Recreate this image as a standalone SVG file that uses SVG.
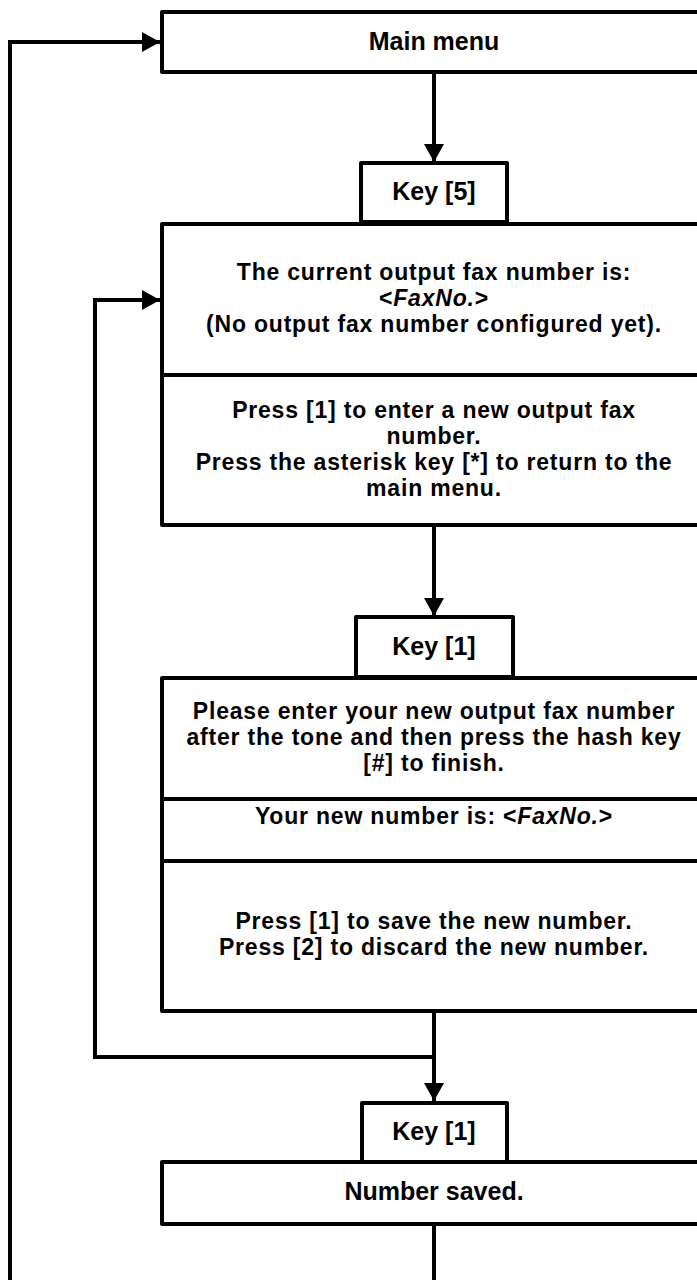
<svg xmlns="http://www.w3.org/2000/svg" width="697" height="1280" viewBox="0 0 697 1280">
<style>
.box{fill:#fff;stroke:#000;stroke-width:4;stroke-linejoin:round}
.div{stroke:#000;stroke-width:4;fill:none}
.ln{stroke:#000;stroke-width:4;fill:none;stroke-linejoin:miter}
text{font-family:"Liberation Sans",Arial,sans-serif;font-weight:bold;font-size:25px;text-anchor:middle;fill:#000}
.ml{font-size:23px;letter-spacing:0.8px}
.it{font-style:italic}
</style>
<defs>
<marker id="ah" viewBox="0 0 18 20" refX="18" refY="10" markerWidth="18" markerHeight="20" markerUnits="userSpaceOnUse" orient="auto">
<path d="M0,0 L18,10 L0,20 Z" fill="#000"/>
</marker>
</defs>
<g id="connectors">
<path class="ln" d="M434,1224 L434,1290"/>
<path class="ln" d="M10,1290 L10,42 L160,42" marker-end="url(#ah)"/>
<path class="ln" d="M434,72 L434,162" marker-end="url(#ah)"/>
<path class="ln" d="M434,525 L434,616" marker-end="url(#ah)"/>
<path class="ln" d="M434,1011 L434,1101" marker-end="url(#ah)"/>
<path class="ln" d="M434,1057 L95,1057 L95,300 L160,300" marker-end="url(#ah)"/>
</g>
<g id="main-menu">
<rect class="box" x="162" y="12" width="544" height="60"/>
<text x="434" y="50">Main menu</text>
</g>
<g id="key5">
<rect class="box" x="361" y="163" width="146" height="59"/>
<text x="434" y="200">Key [5]</text>
</g>
<g id="current-number">
<rect class="box" x="162" y="224" width="544" height="301"/>
<line class="div" x1="162" y1="375" x2="706" y2="375"/>
<text class="ml" x="434" y="280">The current output fax number is:</text>
<text class="ml" x="434" y="306">&lt;<tspan class="it">FaxNo.</tspan>&gt;</text>
<text class="ml" x="434" y="332">(No output fax number configured yet).</text>
<text class="ml" x="434" y="418">Press [1] to enter a new output fax</text>
<text class="ml" x="434" y="444">number.</text>
<text class="ml" x="434" y="470">Press the asterisk key [*] to return to the</text>
<text class="ml" x="434" y="496">main menu.</text>
</g>
<g id="key1a">
<rect class="box" x="356" y="617" width="157" height="60"/>
<text x="434" y="655">Key [1]</text>
</g>
<g id="enter-number">
<rect class="box" x="162" y="678" width="544" height="333"/>
<line class="div" x1="162" y1="799" x2="706" y2="799"/>
<line class="div" x1="162" y1="861" x2="706" y2="861"/>
<text class="ml" x="434" y="719">Please enter your new output fax number</text>
<text class="ml" x="434" y="745">after the tone and then press the hash key</text>
<text class="ml" x="434" y="771">[#] to finish.</text>
<text class="ml" x="434" y="824">Your new number is: &lt;<tspan class="it">FaxNo.</tspan>&gt;</text>
<text class="ml" x="434" y="929">Press [1] to save the new number.</text>
<text class="ml" x="434" y="955">Press [2] to discard the new number.</text>
</g>
<g id="key1b">
<rect class="box" x="362" y="1103" width="145" height="59"/>
<text x="434" y="1140">Key [1]</text>
</g>
<g id="number-saved">
<rect class="box" x="162" y="1162" width="544" height="62"/>
<text x="434" y="1200">Number saved.</text>
</g>
</svg>
